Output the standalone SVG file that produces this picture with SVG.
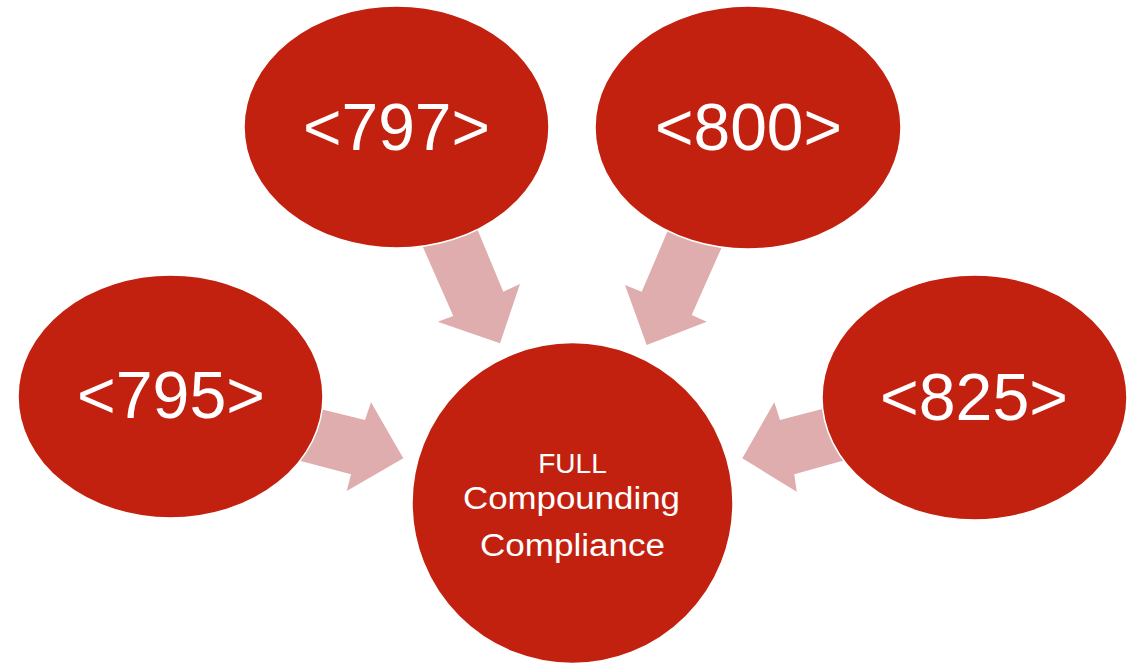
<svg xmlns="http://www.w3.org/2000/svg" width="1140" height="665" viewBox="0 0 1140 665">
<style>
.arrow{fill:#DFADAD;stroke:none}
.node{fill:#C3210F;stroke:#FFFFFF;stroke-width:1.5}
.big{font-family:"Liberation Sans",Arial,sans-serif;font-size:66px;fill:#FFFFFF;text-anchor:middle}
.small{font-family:"Liberation Sans",Arial,sans-serif;font-size:31px;fill:#FFFFFF;text-anchor:middle}
</style>
<rect width="1140" height="665" fill="#FFFFFF"/>
<g id="connectors">
<polygon class="arrow" points="411,220 466,202 503.3,291.7 520,284 500,343.3 437.7,321.7 453.3,316"/>
<polygon class="arrow" points="678.7,205.3 733.7,220.3 691.7,315 706.7,321.7 646.7,345 625,285 641.7,291.7"/>
<polygon class="arrow" points="296,403 365,420 371,402.3 403.3,458.3 346.7,491 351,474.3 274,454"/>
<polygon class="arrow" points="847,402.5 780,420 774.3,402.3 742.3,458.3 796.7,491.7 794.3,474.3 867,454"/>
</g>
<g id="node-797">
<ellipse class="node" cx="396.5" cy="127" rx="152.5" ry="121"/>
<text class="big" x="396.5" y="150" textLength="187" lengthAdjust="spacingAndGlyphs">&lt;797&gt;</text>
</g>
<g id="node-800">
<ellipse class="node" cx="748" cy="127.5" rx="153" ry="121.5"/>
<text class="big" x="748.5" y="150" textLength="187" lengthAdjust="spacingAndGlyphs">&lt;800&gt;</text>
</g>
<g id="node-795">
<ellipse class="node" cx="170.5" cy="396.5" rx="152.5" ry="121.5"/>
<text class="big" x="171" y="418" textLength="188" lengthAdjust="spacingAndGlyphs">&lt;795&gt;</text>
</g>
<g id="node-825">
<ellipse class="node" cx="974.5" cy="397.5" rx="152.5" ry="122.5"/>
<text class="big" x="974" y="420" textLength="188" lengthAdjust="spacingAndGlyphs">&lt;825&gt;</text>
</g>
<g id="node-center">
<circle class="node" cx="572.5" cy="503" r="160.5"/>
<text class="small" x="572.5" y="473" style="font-size:28px">FULL</text>
<text class="small" x="571.5" y="509" textLength="217" lengthAdjust="spacingAndGlyphs">Compounding</text>
<text class="small" x="572.5" y="556" textLength="185" lengthAdjust="spacingAndGlyphs">Compliance</text>
</g>
</svg>
